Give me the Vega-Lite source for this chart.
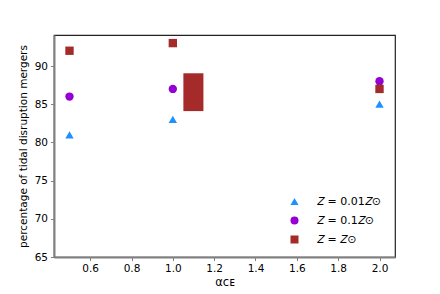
{
  "$schema": "https://vega.github.io/schema/vega-lite/v6.json",
  "width": 341,
  "height": 222,
  "autosize": "none",
  "padding": {"left": 54, "top": 35, "right": 45, "bottom": 37},
  "background": "white",
  "config": {
    "font": "DejaVu Sans",
    "view": {"stroke": "#222222", "strokeWidth": 1.2},
    "axis": {
      "grid": false,
      "domainColor": "#808080",
      "domainWidth": 2,
      "tickColor": "#808080",
      "tickWidth": 1,
      "tickSize": 3.5,
      "labelFont": "DejaVu Sans",
      "labelFontSize": 10.5,
      "labelColor": "#000000",
      "titleFont": "DejaVu Sans",
      "titleFontSize": 10.5,
      "titleFontWeight": "normal",
      "titleColor": "#000000"
    }
  },
  "datasets": {
    "pts": [
      {"alpha": 0.5, "pct": 81, "Z": "𝑍 = 0.01𝑍⊙"},
      {"alpha": 1.0, "pct": 83, "Z": "𝑍 = 0.01𝑍⊙"},
      {"alpha": 2.0, "pct": 85, "Z": "𝑍 = 0.01𝑍⊙"},
      {"alpha": 0.5, "pct": 86, "Z": "𝑍 = 0.1𝑍⊙"},
      {"alpha": 1.0, "pct": 87, "Z": "𝑍 = 0.1𝑍⊙"},
      {"alpha": 2.0, "pct": 88, "Z": "𝑍 = 0.1𝑍⊙"},
      {"alpha": 0.5, "pct": 92, "Z": "𝑍 = 𝑍⊙"},
      {"alpha": 1.0, "pct": 93, "Z": "𝑍 = 𝑍⊙"},
      {"alpha": 2.0, "pct": 87, "Z": "𝑍 = 𝑍⊙"}
    ],
    "box": [
      {"x1": 1.051, "x2": 1.148, "y1": 84.1, "y2": 89.05}
    ]
  },
  "layer": [
    {
      "data": {"name": "box"},
      "mark": {"type": "rect", "color": "#a52a2a", "opacity": 1},
      "encoding": {
        "x": {"field": "x1", "type": "quantitative"},
        "x2": {"field": "x2"},
        "y": {"field": "y1", "type": "quantitative"},
        "y2": {"field": "y2"}
      }
    },
    {
      "data": {"name": "pts"},
      "mark": {"type": "point", "filled": true, "opacity": 1, "size": 70},
      "encoding": {
        "x": {
          "field": "alpha", "type": "quantitative",
          "scale": {"domain": [0.425, 2.075], "nice": false, "zero": false},
          "axis": {"values": [0.6, 0.8, 1.0, 1.2, 1.4, 1.6, 1.8, 2.0], "format": ".1f", "title": "αᴄᴇ", "titlePadding": 2, "labelPadding": 3, "titleFontSize": 11.5}
        },
        "y": {
          "field": "pct", "type": "quantitative",
          "scale": {"domain": [65, 94.06], "nice": false, "zero": false},
          "axis": {"values": [65, 70, 75, 80, 85, 90], "title": "percentage of tidal disruption mergers", "titlePadding": 6, "labelPadding": 3}
        },
        "color": {
          "field": "Z", "type": "nominal",
          "scale": {"domain": ["𝑍 = 0.01𝑍⊙", "𝑍 = 0.1𝑍⊙", "𝑍 = 𝑍⊙"], "range": ["#1e90ff", "#9400d3", "#a52a2a"]},
          "legend": {
            "title": null,
            "orient": "none",
            "legendX": 235,
            "legendY": 161,
            "padding": 0,
            "symbolSize": 64,
            "labelFontSize": 11,
            "labelFont": "DejaVu Sans",
            "labelColor": "#000000",
            "labelOffset": 17,
            "rowPadding": 7
          }
        },
        "shape": {
          "field": "Z", "type": "nominal",
          "scale": {"domain": ["𝑍 = 0.01𝑍⊙", "𝑍 = 0.1𝑍⊙", "𝑍 = 𝑍⊙"], "range": ["triangle-up", "circle", "square"]}
        }
      }
    }
  ]
}
